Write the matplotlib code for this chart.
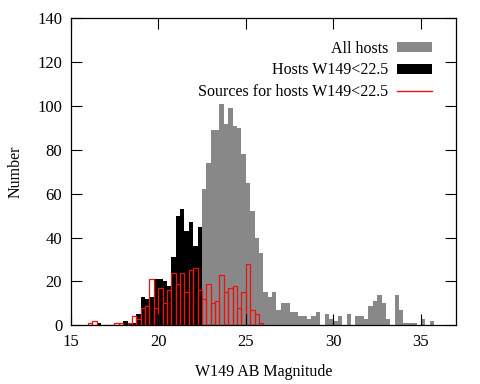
import numpy as np
import matplotlib
matplotlib.use("Agg")
import matplotlib.pyplot as plt
from matplotlib.patches import Patch
from matplotlib.lines import Line2D

plt.rcParams['font.family'] = ['Liberation Serif', 'DejaVu Serif']

bin_width = 0.25
mag_start = 16.0

# Counts per 0.25-mag bin starting at 16.0
all_hosts = [0, 0, 1, 0, 0, 0, 0, 0, 2, 1, 1, 5, 13, 12, 13, 21, 21, 20, 18, 31,
             50, 53, 43, 47, 36, 45,
             62, 74, 89, 89, 101, 92, 99, 91, 90, 78, 65, 52, 40, 33,
             15, 13, 15, 7, 10, 10, 6, 6, 4, 4, 3, 4, 6, 0, 5, 3,
             2, 4, 0, 5, 0, 4, 4, 3, 9, 11, 14, 10, 3, 0, 14, 7,
             1, 1, 1, 0, 3, 0, 2]
bright_hosts = [0, 0, 1, 0, 0, 0, 0, 0, 2, 1, 1, 5, 13, 12, 13, 21, 21, 20, 18, 31,
                50, 53, 43, 47, 36, 45]
sources = [1, 2, 0, 0, 0, 0, 1, 1, 0, 1, 4, 3, 8, 9, 21, 8, 17, 10, 16, 24,
           19, 24, 15, 25, 26, 16, 12, 19, 10, 11, 23, 15, 17, 18, 8, 15,
           28, 7, 5, 1]

labels = ["All hosts", "Hosts W149<22.5", "Sources for hosts W149<22.5"]
xticks = [15, 20, 25, 30, 35]
yticks = [0, 20, 40, 60, 80, 100, 120, 140]

def lefts(n):
    return mag_start + bin_width * np.arange(n)

fig = plt.figure(figsize=(4.8, 3.84), dpi=100)
ax = fig.add_axes([0.147, 0.153, 0.803, 0.799])

ax.bar(lefts(len(all_hosts)), all_hosts, width=bin_width, align='edge',
       color='#888888', linewidth=0)
ax.bar(lefts(len(bright_hosts)), bright_hosts, width=bin_width, align='edge',
       color='black', linewidth=0)
ax.bar(lefts(len(sources)), sources, width=bin_width, align='edge',
       fill=False, edgecolor='#ee1111', linewidth=0.9)

ax.set_xlim(15, 37)
ax.set_ylim(0, 140)
ax.set_xticks(xticks)
ax.set_yticks(yticks)
ax.tick_params(direction='in', length=8, width=0.8, top=True, right=True,
               labelsize=12, pad=6, colors='black')
for s in ax.spines.values():
    s.set_linewidth(0.9)
ax.set_xlabel("W149 AB Magnitude", fontsize=11.5, labelpad=10.5)
ax.set_ylabel("Number", fontsize=11.5, labelpad=9.5)

handles = [Patch(facecolor='#888888', edgecolor='none'),
           Patch(facecolor='black', edgecolor='none'),
           Line2D([0], [0], color='#ee1111', lw=1.0)]
ax.legend(handles, labels, loc='upper right', frameon=False, markerfirst=False,
          fontsize=11.5, handlelength=2.2, handleheight=0.6, handletextpad=0.55,
          labelspacing=0.35, borderaxespad=0, borderpad=0,
          bbox_to_anchor=(0.938, 0.927))

fig.savefig("out.png", dpi=100)
